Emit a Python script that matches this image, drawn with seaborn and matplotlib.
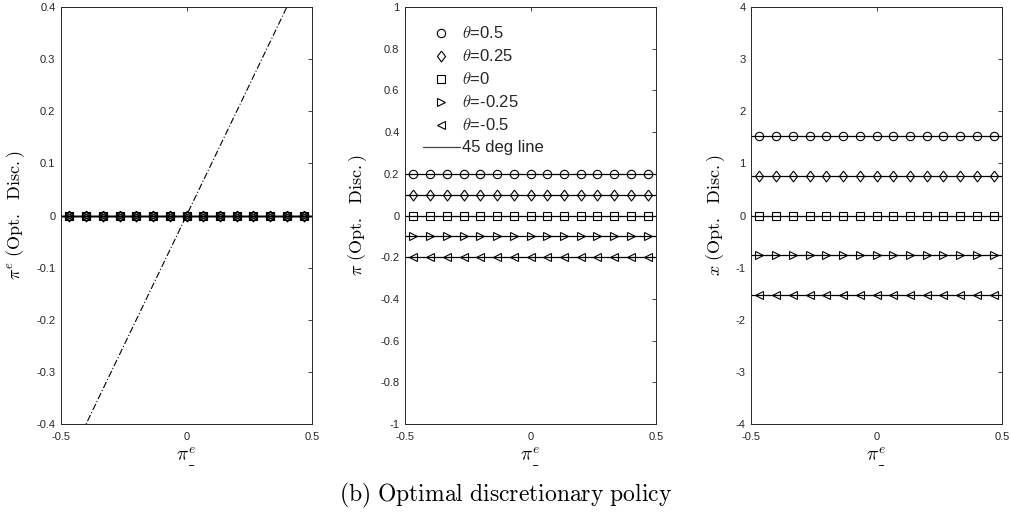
import numpy as np
import pandas as pd
import seaborn as sns
import matplotlib
matplotlib.use("Agg")
import matplotlib.pyplot as plt
from matplotlib.lines import Line2D

sns.set_theme(style="white")
plt.rcParams['font.family'] = ['Liberation Sans', 'DejaVu Sans']
plt.rcParams['mathtext.fontset'] = 'cm'
plt.rcParams['axes.unicode_minus'] = False

# ---- data ----
x_grid = np.linspace(-0.5, 0.5, 31)          # state grid for pi^e_-
theta_labels = ["0.5", "0.25", "0", "-0.25", "-0.5"]
pie_values = [0.0, 0.0, 0.0, 0.0, 0.0]       # pi^e (Opt. Disc.)
pi_values = [0.2, 0.1, 0.0, -0.1, -0.2]      # pi (Opt. Disc.)
x_values = [1.52, 0.76, 0.0, -0.76, -1.52]   # x (Opt. Disc.)
line45_x = [-0.5, 0.5]
line45_y = [-0.5, 0.5]

diamond = [(0, 1), (0.75, 0), (0, -1), (-0.75, 0), (0, 1)]
theta_markers = ["o", diamond, "s", ">", "<"]
msizes = [6, 7.8, 5.8, 6, 6]

fig = plt.figure(figsize=(10.11, 5.18), dpi=100)
W, H = 1011, 518
bottom = (H - 424) / H
height = (424 - 7) / H
lefts = [61, 405, 751]
axw = 251 / W
axes = [fig.add_axes([l / W, bottom, axw, height]) for l in lefts]

dark = '#262626'

def draw_series(ax, values):
    for mk, ms, v in zip(theta_markers, msizes, values):
        df = pd.DataFrame({"x": x_grid, "y": np.full(len(x_grid), v)})
        sns.lineplot(data=df, x="x", y="y", ax=ax, color='black', lw=0.9,
                     marker=mk, markevery=slice(1, None, 2), ms=ms,
                     mfc='none', mec='black', mew=0.8, legend=False)

# left panel
ax = axes[0]
draw_series(ax, pie_values)
sns.lineplot(x=line45_x, y=line45_y, ax=ax, color='black', lw=0.8,
             linestyle=(0, (6, 2, 1, 2)), legend=False)
ax.set_ylim(-0.4, 0.4)
ax.set_yticks(np.round(np.arange(-0.4, 0.41, 0.1), 1))
ax.set_ylabel(r'$\pi^e\ \mathrm{(Opt.\ \ Disc.)}$', fontsize=13, color='black', labelpad=7)

# middle panel
ax = axes[1]
draw_series(ax, pi_values)
ax.set_ylim(-1, 1)
ax.set_yticks(np.round(np.arange(-1, 1.01, 0.2), 1))
ax.set_ylabel(r'$\pi\ \mathrm{(Opt.\ \ Disc.)}$', fontsize=13, color='black', labelpad=8)
handles = [Line2D([], [], linestyle='none', marker=mk, ms=ms, mfc='none',
                  mec='black', mew=0.8) for mk, ms in zip(theta_markers, msizes)]
handles.append(Line2D([], [], color='#444444', lw=0.9))
labels = [r'$\theta$=' + t for t in theta_labels] + ['45 deg line']
ax.legend(handles, labels, loc='upper left', frameon=False, fontsize=12,
          bbox_to_anchor=(0.045, 0.972), handlelength=2.2, handletextpad=0.15,
          labelspacing=0.42, borderaxespad=0.0)

# right panel
ax = axes[2]
draw_series(ax, x_values)
ax.set_ylim(-4, 4)
ax.set_yticks(np.arange(-4, 5, 1))
ax.set_ylabel(r'$x\ \mathrm{(Opt.\ \ Disc.)}$', fontsize=13, color='black', labelpad=6)

def fmt(v, pos):
    s = ('%.1f' % v).rstrip('0').rstrip('.')
    if s in ('-0', ''):
        s = '0'
    return s

for ax in axes:
    ax.set_xlim(-0.5, 0.5)
    ax.set_xticks([-0.5, 0, 0.5])
    ax.xaxis.set_major_formatter(matplotlib.ticker.FuncFormatter(fmt))
    ax.yaxis.set_major_formatter(matplotlib.ticker.FuncFormatter(fmt))
    ax.set_xlabel(r'$\pi^e_{\_}$', fontsize=14, color='black', labelpad=2)
    ax.tick_params(direction='in', top=True, right=True, length=3, width=0.6,
                   labelsize=8, colors=dark)
    ax.tick_params(axis='x', pad=6)
    ax.tick_params(axis='y', pad=4)
    for sp in ax.spines.values():
        sp.set_visible(True)
        sp.set_color(dark)
        sp.set_linewidth(0.7)
    ax.set_facecolor('white')

fig.text(0.5, 0.044, r'$\mathrm{(b)\ Optimal\ discretionary\ policy}$',
         ha='center', va='center', fontsize=17, color='black')

fig.savefig('out.png', dpi=100, facecolor='white')
